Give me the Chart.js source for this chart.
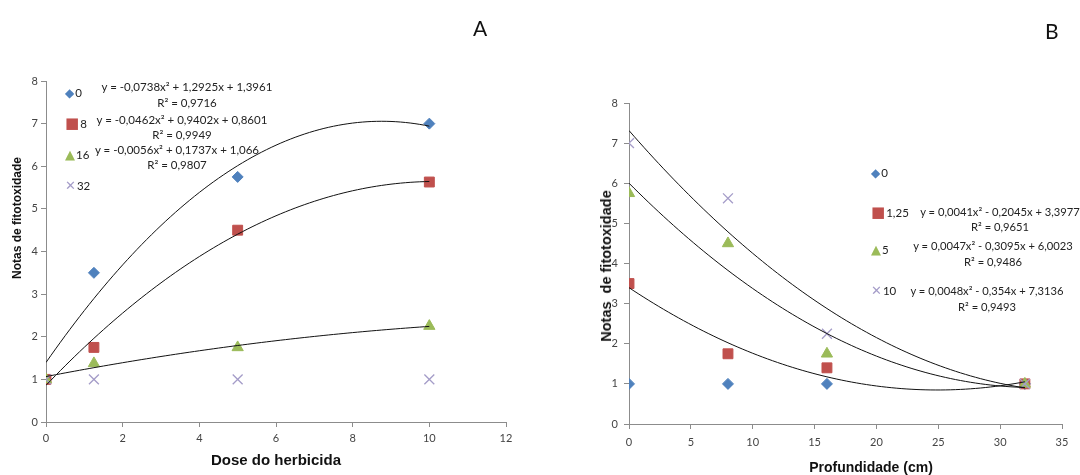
<!DOCTYPE html>
<html>
<head>
<meta charset="utf-8">
<script src="https://cdn.jsdelivr.net/npm/chart.js@4.4.1/dist/chart.umd.min.js"></script>
<style>
    body { margin: 0; background: #fff; width: 1080px; height: 475px; position: relative; overflow: hidden; font-family: Lato, sans-serif; }
    canvas { position: absolute; top: 0; }
    .t { position: absolute; white-space: nowrap; transform: translate(-50%, -50%); color: #222; font-size: 11.5px; }
    .lg { position: absolute; white-space: nowrap; transform: translate(0, -50%); color: #222; font-size: 11.5px; }
    .ax { position: absolute; white-space: nowrap; font-family: 'Liberation Sans', Arial, sans-serif; font-weight: bold; color: #111; }
    .panel { position: absolute; font-size: 21px; color: #111; }
</style>
</head>
<body>
<canvas id="graphA" width="560" height="475" style="left:0;width:560px;height:475px"></canvas>
<canvas id="graphB" width="520" height="475" style="left:560px;width:520px;height:475px"></canvas>

<div class="panel" style="left:473px;top:15px">A</div>
<div class="panel" style="left:1045px;top:18px">B</div>

<div class="ax" style="left:17px;top:218px;font-size:12px;transform:translate(-50%,-50%) rotate(-90deg)">Notas de fitotoxidade</div>
<div class="ax" style="left:276px;top:459px;font-size:15px;transform:translate(-50%,-50%)">Dose do herbicida</div>
<div class="ax" style="left:606px;top:266px;font-size:14.5px;transform:translate(-50%,-50%) rotate(-90deg)">Notas&nbsp; de fitotoxidade</div>
<div class="ax" style="left:871px;top:467px;font-size:14px;transform:translate(-50%,-50%)">Profundidade (cm)</div>

<div id="notes"></div>

<script>
// chart A: dose do herbicida
const doseX = [0, 1.25, 5, 10];
const dose0 = [1, 3.5, 5.75, 7];
const dose8 = [1, 1.75, 4.5, 5.63];
const dose16 = [1, 1.375, 1.75, 2.25];
const dose32 = [1, 1, 1, 1];
const doseNames = ['0', '8', '16', '32'];
// trendline coefficients (a, b, c) as printed on the chart
const doseFit = [
    [-0.0738, 1.2925, 1.3961],
    [-0.0462, 0.9402, 0.8601],
    [-0.0056, 0.1737, 1.066],
];
const doseEq = [
    ['y = -0,0738x² + 1,2925x + 1,3961', 'R² = 0,9716'],
    ['y = -0,0462x² + 0,9402x + 0,8601', 'R² = 0,9949'],
    ['y = -0,0056x² + 0,1737x + 1,066', 'R² = 0,9807'],
];

// chart B: profundidade
const profX = [0, 8, 16, 32];
const prof0 = [1, 1, 1, 1];
const prof125 = [3.5, 1.75, 1.4, 1];
const prof5 = [5.75, 4.5, 1.75, 1];
const prof10 = [7, 5.625, 2.25, 1];
const profNames = ['0', '1,25', '5', '10'];
const profFit = [
    [0.0041, -0.2045, 3.3977],
    [0.0047, -0.3095, 6.0023],
    [0.0048, -0.354, 7.3136],
];
const profEq = [
    ['y = 0,0041x² - 0,2045x + 3,3977', 'R² = 0,9651'],
    ['y = 0,0047x² - 0,3095x + 6,0023', 'R² = 0,9486'],
    ['y = 0,0048x² - 0,354x + 7,3136', 'R² = 0,9493'],
];

const colours = ['#4f81bd', '#c0504d', '#9bbb59', '#a49cc8'];
const styles = ['rectRot', 'rect', 'triangle', 'crossRot'];
const radii = [5.5, 7, 6.5, 7];

const pts = (xs, ys) => xs.map((x, i) => ({ x: x, y: ys[i] }));

const curve = (coef, xMax) => {
    let out = [];
    for (let x = 0; x <= xMax + 1e-9; x += xMax / 80) {
        out.push({ x: x, y: coef[0] * x * x + coef[1] * x + coef[2] });
    }
    return out;
};

const markerSet = (label, data, i) => ({
    type: 'scatter',
    label: label,
    data: data,
    pointStyle: styles[i],
    pointRadius: radii[i],
    pointBackgroundColor: colours[i],
    pointBorderColor: colours[i],
    pointBorderWidth: i === 3 ? 1.3 : 1,
    showLine: false,
});

const trendSet = (data) => ({
    type: 'line',
    data: data,
    borderColor: '#111',
    borderWidth: 1,
    pointRadius: 0,
    fill: false,
    tension: 0,
});

const axisGrey = '#8c8c8c';
const tickFont = { family: 'Lato', size: 11 };

const makeScales = (xMax, xStep, yWidth, xHeight, yPad, xPad) => ({
    x: {
        type: 'linear',
        min: 0,
        max: xMax,
        ticks: { stepSize: xStep, color: '#444', font: tickFont, padding: xPad, maxRotation: 0 },
        grid: { display: true, drawOnChartArea: false, drawTicks: true, tickLength: 5, color: axisGrey },
        border: { color: axisGrey, width: 1 },
        afterFit: (scale) => { scale.height = xHeight; },
    },
    y: {
        type: 'linear',
        min: 0,
        max: 8,
        ticks: { stepSize: 1, color: '#444', font: tickFont, padding: yPad },
        grid: { display: true, drawOnChartArea: false, drawTicks: true, tickLength: 5, color: axisGrey },
        border: { color: axisGrey, width: 1 },
        afterFit: (scale) => { scale.width = yWidth; },
    },
});

const baseOptions = (scales, padding) => ({
    responsive: false,
    animation: false,
    layout: { padding: padding },
    plugins: { legend: { display: false }, tooltip: { enabled: false } },
    scales: scales,
});

let chartA = new Chart(document.getElementById('graphA').getContext('2d'), {
    type: 'scatter',
    data: {
        datasets: [
            trendSet(curve(doseFit[0], 10)),
            trendSet(curve(doseFit[1], 10)),
            trendSet(curve(doseFit[2], 10)),
            markerSet(doseNames[3], pts(doseX, dose32), 3),
            markerSet(doseNames[2], pts(doseX, dose16), 2),
            markerSet(doseNames[1], pts(doseX, dose8), 1),
            markerSet(doseNames[0], pts(doseX, dose0), 0),
        ],
    },
    options: baseOptions(makeScales(12, 2, 46, 53, 3, 5), { left: 0, right: 54, top: 81, bottom: 0 }),
});

let chartB = new Chart(document.getElementById('graphB').getContext('2d'), {
    type: 'scatter',
    data: {
        datasets: [
            trendSet(curve(profFit[0], 32)),
            trendSet(curve(profFit[1], 32)),
            trendSet(curve(profFit[2], 32)),
            markerSet(profNames[3], pts(profX, prof10), 3),
            markerSet(profNames[2], pts(profX, prof5), 2),
            markerSet(profNames[1], pts(profX, prof125), 1),
            markerSet(profNames[0], pts(profX, prof0), 0),
        ],
    },
    options: baseOptions(makeScales(35, 5, 69, 51, 6, 7), { left: 0, right: 18, top: 103, bottom: 0 }),
});

// legend marks and trendline labels
const glyphs = ['◆', '■', '▲', '✕'];
const glyphSize = ['12px', '15px', '13px', '13px'];
const notes = document.getElementById('notes');

const addText = (cls, text, left, top, size) => {
    let d = document.createElement('div');
    d.className = cls;
    d.innerText = text;
    d.style.left = left + 'px';
    d.style.top = top + 'px';
    if (size) d.style.fontSize = size;
    notes.appendChild(d);
};

const addKey = (i, name, left, top) => {
    let d = document.createElement('div');
    d.className = 'lg';
    d.style.left = left + 'px';
    d.style.top = top + 'px';
    let g = document.createElement('span');
    g.innerText = glyphs[i];
    g.style.color = colours[i];
    g.style.fontSize = glyphSize[i];
    g.style.fontFamily = "'DejaVu Sans', sans-serif";
    g.style.marginRight = '1px';
    d.appendChild(g);
    d.appendChild(document.createTextNode(name));
    notes.appendChild(d);
};

let keyTopsA = [93, 123, 154, 185];
for (let i = 0; i < 4; i++) addKey(i, doseNames[i], 65, keyTopsA[i]);
let eqA = [[187, 86, 102], [182, 119, 134], [177, 149, 164]];
for (let i = 0; i < 3; i++) {
    addText('t', doseEq[i][0], eqA[i][0], eqA[i][1]);
    addText('t', doseEq[i][1], eqA[i][0], eqA[i][2]);
}

let keyTopsB = [173, 212, 249, 290];
for (let i = 0; i < 4; i++) addKey(i, profNames[i], 871, keyTopsB[i]);
let eqB = [[1000, 211, 226], [993, 245, 261], [987, 290, 306]];
for (let i = 0; i < 3; i++) {
    addText('t', profEq[i][0], eqB[i][0], eqB[i][1], '11.2px');
    addText('t', profEq[i][1], eqB[i][0], eqB[i][2], '11.2px');
}
</script>
</body>
</html>
